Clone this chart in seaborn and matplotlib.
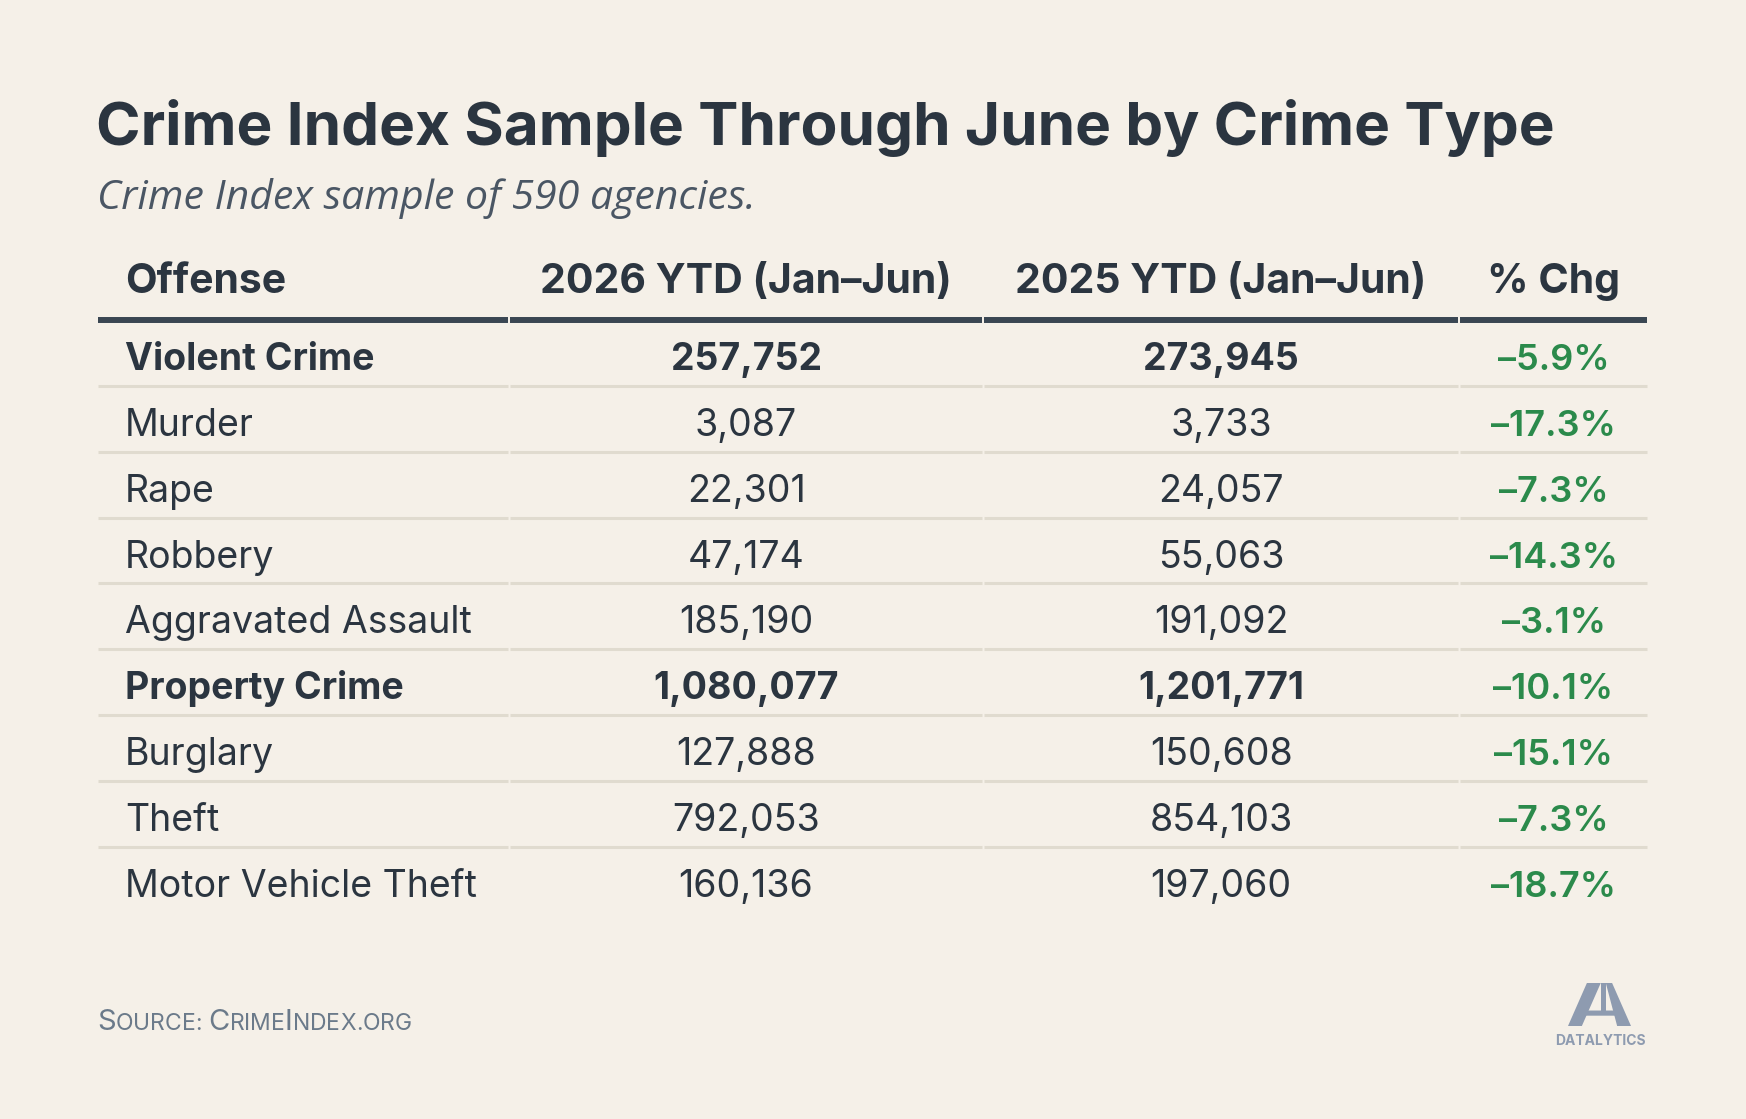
import matplotlib
matplotlib.use("Agg")
import matplotlib.pyplot as plt
import seaborn as sns
from matplotlib.patches import Polygon

# table data
offenses = ["Violent Crime", "Murder", "Rape", "Robbery", "Aggravated Assault",
            "Property Crime", "Burglary", "Theft", "Motor Vehicle Theft"]
ytd_2026 = [257752, 3087, 22301, 47174, 185190, 1080077, 127888, 792053, 160136]
ytd_2025 = [273945, 3733, 24057, 55063, 191092, 1201771, 150608, 854103, 197060]
pct_chg = [-5.9, -17.3, -7.3, -14.3, -3.1, -10.1, -15.1, -7.3, -18.7]
is_total = [True, False, False, False, False, True, False, False, False]
headers = ["Offense", "2026 YTD (Jan–Jun)", "2025 YTD (Jan–Jun)", "% Chg"]

BG = "#f5f0e8"
DARK = "#2b3540"
RULE = "#3a4652"
SEP = "#e0dbcf"
GREEN = "#2b8a4b"
MUTED = "#6b7a8a"
LOGO = "#8e9bb0"

sns.set_theme(style="white", rc={"figure.facecolor": BG, "axes.facecolor": BG})
plt.rcParams["font.family"] = ["Inter", "DejaVu Sans"]

W, H = 1746, 1119
fig = plt.figure(figsize=(W / 100, H / 100), dpi=100)


def px(x, y):
    return (x / W, 1 - y / H)


# title + subtitle
fig.text(*px(96, 145), "Crime Index Sample Through June by Crime Type",
         fontsize=43.4, weight="bold", color=DARK, va="baseline")
fig.text(*px(97, 209), "Crime Index sample of 590 agencies.",
         fontsize=29.5, style="italic", color="#4a5664",
         family=["Open Sans", "DejaVu Sans"], va="baseline")

# table axes: x in 0..1 across table width, y in row units
ax = fig.add_axes([97 / W, (H - 945.2) / H, 1551 / W, 717.2 / H])
ax.set_xlim(0, 1)
ax.set_ylim(9.0, -1.9)
ax.axis("off")

edges = [0, 0.2656, 0.5713, 0.8782, 1.0]
centers = [(edges[i] + edges[i + 1]) / 2 for i in range(4)]
text_x = [0.018] + centers[1:]
aligns = ["left", "center", "center", "center"]
gap = 0.0006

for j, h in enumerate(headers):
    ax.text(text_x[j], -0.91, h, ha=aligns[j], va="baseline",
            fontsize=29.5, weight="bold", color=DARK)

for j in range(4):
    ax.hlines(-0.5, edges[j] + gap, edges[j + 1] - gap, color=RULE, lw=4.3)

n = len(offenses)
for i in range(n):
    wt = "bold" if is_total[i] else "normal"
    y = i + 0.26
    ax.text(text_x[0], y, offenses[i], ha="left", va="baseline",
            fontsize=27, weight=wt, color=DARK)
    ax.text(text_x[1], y, f"{ytd_2026[i]:,}", ha="center", va="baseline",
            fontsize=27, weight=wt, color=DARK)
    ax.text(text_x[2], y, f"{ytd_2025[i]:,}", ha="center", va="baseline",
            fontsize=27, weight=wt, color=DARK)
    ax.text(text_x[3], y, f"\u2013{abs(pct_chg[i]):.1f}%", ha="center",
            va="baseline", fontsize=26, weight="semibold", color=GREEN)
    if i < n - 1:
        for j in range(4):
            ax.hlines(i + 0.5, edges[j] + gap, edges[j + 1] - gap,
                      color=SEP, lw=2.2)

# source line in small caps
renderer = fig.canvas.get_renderer()
cursor = 97.0
for ch in "Source: CrimeIndex.org":
    big = ch.isupper()
    t = fig.text(*px(cursor, 1030), ch.upper(), fontsize=21 if big else 16.5,
                 color=MUTED, va="baseline", ha="left")
    cursor += t.get_window_extent(renderer).width

# logo mark, drawn in a 0..1 box
lx0, ly0, lw_, lh_ = 1568, 983, 63, 43
shapes = [
    [(0, 1), (0.30, 0), (0.52, 0), (0.22, 1)],          # left leg
    [(0.60, 0), (0.70, 0), (1.0, 1), (0.78, 1)],         # right leg
    [(0.30, 0.64), (0.86, 0.64), (0.90, 0.76), (0.27, 0.76)],  # crossbar
    [(0.52, 0), (0.60, 0), (0.60, 0.64), (0.52, 0.64)],  # inner stem
]
for poly in shapes:
    pts = [px(lx0 + u * lw_, ly0 + v * lh_) for u, v in poly]
    fig.patches.append(Polygon(pts, closed=True, transform=fig.transFigure,
                               color=LOGO, lw=0))
fig.text(*px(1600, 1045), "DATALYTICS", fontsize=10, weight="bold",
         color=LOGO, ha="center", va="baseline")

fig.savefig("out.png", dpi=100, facecolor=BG)
